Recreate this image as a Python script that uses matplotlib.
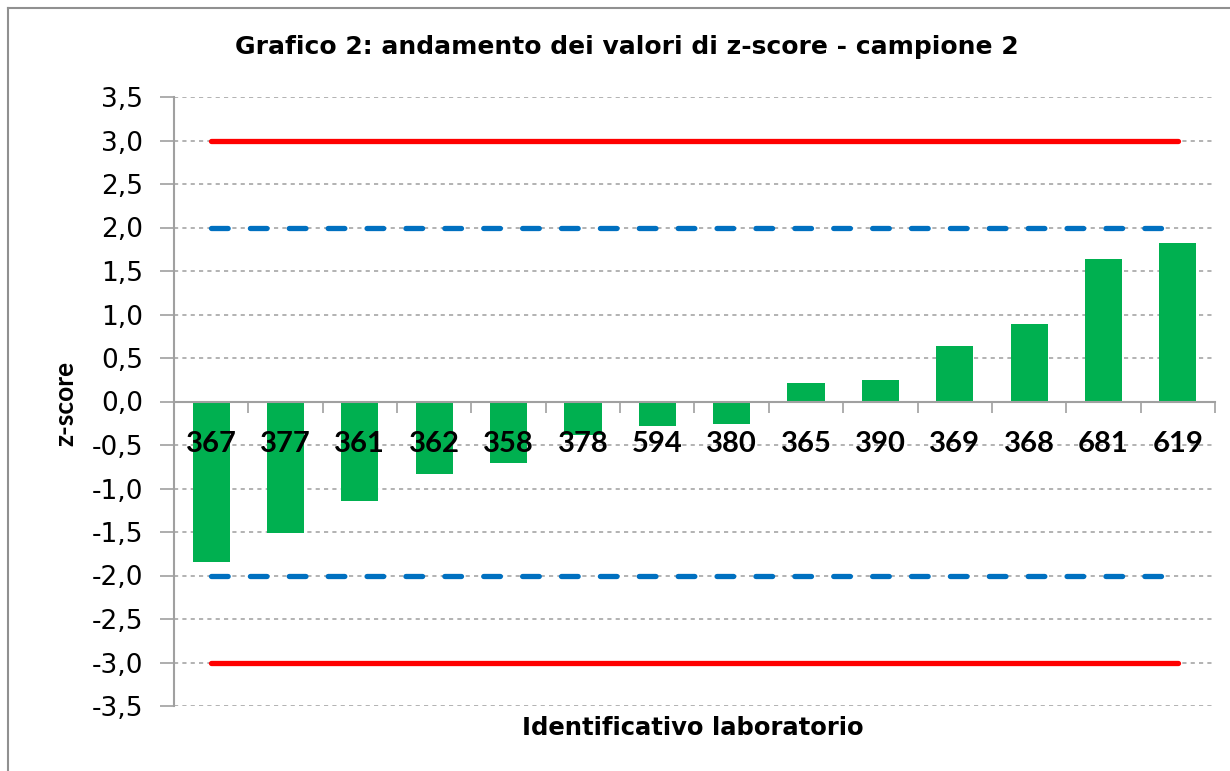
import matplotlib
matplotlib.use("Agg")
import matplotlib.pyplot as plt
from matplotlib.lines import Line2D
import numpy as np

labs = ["367", "377", "361", "362", "358", "378", "594", "380",
        "365", "390", "369", "368", "681", "619"]
zscores = [-1.85, -1.51, -1.14, -0.83, -0.71, -0.39, -0.28, -0.26,
           0.21, 0.25, 0.64, 0.89, 1.64, 1.82]
limit_action = 3.0
limit_warning = 2.0
yticks = [-3.5, -3.0, -2.5, -2.0, -1.5, -1.0, -0.5, 0.0, 0.5, 1.0, 1.5, 2.0, 2.5, 3.0, 3.5]

plt.rcParams['lines.scale_dashes'] = False

W, H = 1230, 771
fig = plt.figure(figsize=(W / 100, H / 100), dpi=100)
ax = fig.add_axes([174 / W, 1 - 706 / H, (1215 - 174) / W, (706 - 97) / H])

x = np.arange(len(labs))
ax.set_xlim(-0.5, len(labs) - 0.5)
ax.set_ylim(-3.5, 3.5)

# gridlines
for yv in yticks:
    ax.axhline(yv, color="#a6a6a6", lw=1.2, ls=(0, (3, 3)), zorder=0)

ax.bar(x, zscores, width=0.5, color="#00B050", zorder=2)

gray = "#a0a0a0"
for s in (1, -1):
    ax.plot([x[0], x[-1]], [s * limit_action] * 2, color="#FF0000", lw=3.8,
            solid_capstyle="round", zorder=3)
    ax.plot([x[0], x[-1]], [s * limit_warning] * 2, color="#0070C0", lw=3.8,
            dashes=(12, 16), dash_capstyle="round", zorder=3)

# spines
ax.spines['top'].set_visible(False)
ax.spines['right'].set_visible(False)
ax.spines['left'].set_color(gray)
ax.spines['left'].set_linewidth(1.5)
ax.spines['bottom'].set_position(('data', 0))
ax.spines['bottom'].set_color(gray)
ax.spines['bottom'].set_linewidth(1.5)
ax.spines['bottom'].set_zorder(4)

ax.set_yticks(yticks)
ax.set_yticklabels([f"{v:.1f}".replace(".", ",") for v in yticks],
                   fontsize=19, family="DejaVu Sans")
ax.tick_params(axis='y', length=10, width=1.2, color=gray, pad=12)

ax.set_xticks(x)
ax.set_xticklabels(labs, fontsize=21, family="Lato", fontweight="bold")
ax.set_xticks(np.arange(-0.5, len(labs)), minor=True)
ax.tick_params(axis='x', which='major', length=0, pad=21)
ax.tick_params(axis='x', which='minor', length=8, width=1.2, color=gray,
               direction='out')
ax.xaxis.set_zorder(5)

fig.text(627 / W, 1 - 47 / H, "Grafico 2: andamento dei valori di z-score - campione 2",
         ha="center", va="center", fontsize=18, fontweight="bold", family="DejaVu Sans")
fig.text(693 / W, 1 - 728 / H, "Identificativo laboratorio",
         ha="center", va="center", fontsize=17.5, fontweight="bold", family="DejaVu Sans")
fig.text(65 / W, 1 - 403 / H, "z-score", rotation=90,
         ha="center", va="center", fontsize=19, fontweight="bold", family="Lato")

# outer frame (top and left edges visible)
fig.add_artist(Line2D([8 / W, 8 / W], [0, 1 - 8 / H], transform=fig.transFigure,
                      color="#909090", lw=1.5))
fig.add_artist(Line2D([8 / W, 1], [1 - 8 / H, 1 - 8 / H], transform=fig.transFigure,
                      color="#909090", lw=1.5))

fig.savefig("out.png", dpi=100)
